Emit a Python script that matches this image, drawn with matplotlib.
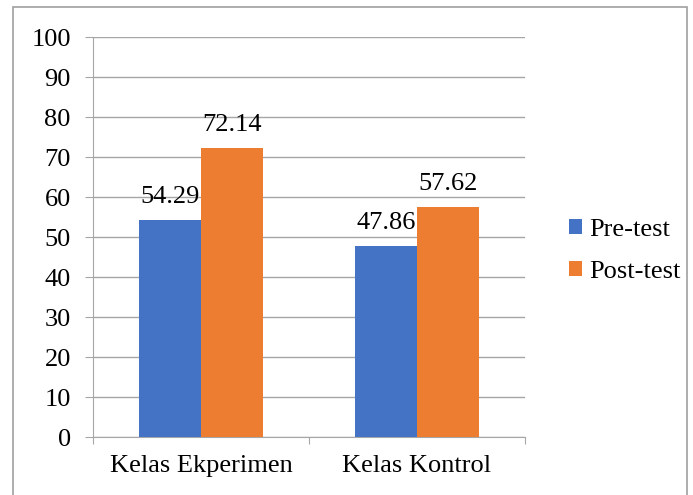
import matplotlib
matplotlib.use("Agg")
import matplotlib.pyplot as plt
from matplotlib.patches import Rectangle
import numpy as np

categories = ["Kelas Ekperimen", "Kelas Kontrol"]
series_names = ["Pre-test", "Post-test"]
pre_test = [54.29, 47.86]
post_test = [72.14, 57.62]
y_ticks = [0, 10, 20, 30, 40, 50, 60, 70, 80, 90, 100]

colors = ["#4472C4", "#ED7D31"]
grid_color = "#A6A6A6"
fs = 19

plt.rcParams['font.family'] = ['Liberation Serif', 'DejaVu Serif']

fig = plt.figure(figsize=(6.93, 4.95), dpi=100)
ax = fig.add_axes([93/693, 1-437/495, (525-93)/693, 400/495])

x = np.arange(len(categories))
w = 62/216
for i, (vals, name) in enumerate(zip([pre_test, post_test], series_names)):
    offs = (i - 0.5) * w
    bars = ax.bar(x + offs, vals, width=w, color=colors[i], label=name, zorder=3)
    for b, v in zip(bars, vals):
        ax.text(b.get_x() + b.get_width()/2, v + 3.0, f"{v:.2f}", ha='center', va='bottom',
                fontsize=fs, color='black')

ax.set_xlim(-0.5, 1.5)
ax.set_ylim(0, 100)
ax.set_yticks(y_ticks)
ax.set_yticklabels([str(t) for t in y_ticks], fontsize=fs)
ax.yaxis.grid(True, color=grid_color, linewidth=1.0, zorder=0)
ax.set_axisbelow(True)
for s in ['top', 'right']:
    ax.spines[s].set_visible(False)
ax.spines['left'].set_color(grid_color)
ax.spines['bottom'].set_color(grid_color)
ax.tick_params(axis='y', length=6, color=grid_color, pad=10, labelsize=fs)
ax.set_xticks([-0.5, 0.5, 1.5], minor=False)
ax.set_xticklabels(["", "", ""])
ax.tick_params(axis='x', which='major', length=5, color=grid_color)
ax.set_xticks(x, minor=True)
ax.set_xticklabels(categories, minor=True, fontsize=fs)
ax.tick_params(axis='x', which='minor', length=0, pad=13, labelsize=fs)

leg = fig.legend(loc='center left', bbox_to_anchor=(545/693, 1-251/495), frameon=False,
                 fontsize=fs, handlelength=0.5, handleheight=0.5, handletextpad=0.28,
                 labelspacing=0.75)

fig.patches.append(Rectangle((13/693, -0.05), (687-13)/693, 1.05 - 7/495, transform=fig.transFigure,
                             fill=False, edgecolor='#A0A0A0', linewidth=1.2))

fig.savefig("out.png", dpi=100)
